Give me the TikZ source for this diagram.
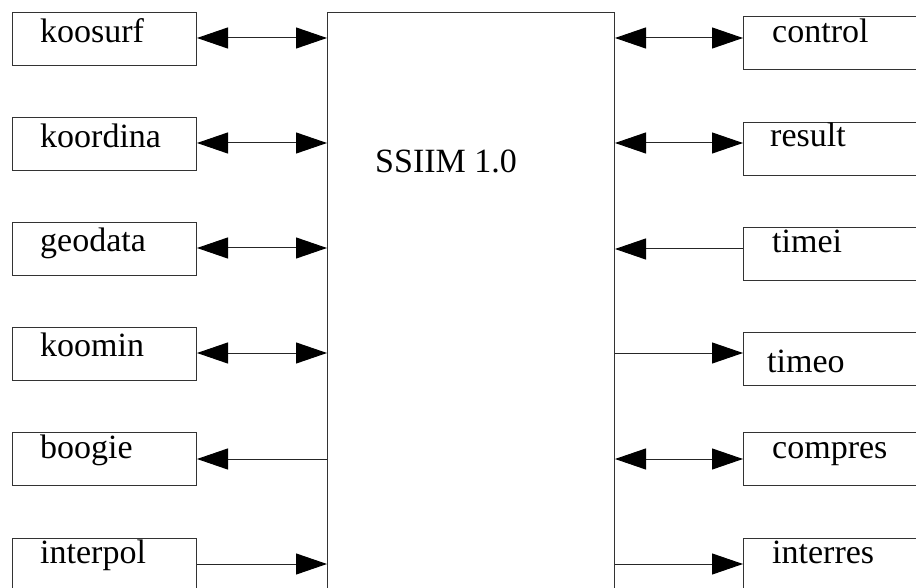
\documentclass[tikz,border=0pt]{standalone}
\usepackage{fontspec}
\setmainfont{Liberation Serif}
\usetikzlibrary{arrows.meta}
\begin{document}
\begin{tikzpicture}[x=1pt,y=-1pt,
  box/.style={draw=black!80, line width=1pt, rectangle, inner sep=0pt, anchor=north west,
    minimum width=184pt, minimum height=53pt},
  rbox/.style={box, minimum width=200pt},
  lbl/.style={anchor=base west, inner sep=0pt, font=\fontsize{34}{40}\selectfont},
  conn/.style={draw=black!85, line width=1pt},
  both/.style={conn, {Triangle[length=31pt,width=21pt,black]}-{Triangle[length=31pt,width=21pt,black]}},
  fwd/.style={conn, -{Triangle[length=31pt,width=21pt,black]}}]
\useasboundingbox (0,0) rectangle (916,588);
% central box
\node[draw=black!80, line width=1pt, rectangle, inner sep=0pt, anchor=north west,
  minimum width=287pt, minimum height=600pt] (main) at (327,12) {};
\node[lbl] (title) at (375,173) {SSIIM 1.0};
% left boxes
\node[box] (l1) at (12,12) {};
\node[box] (l2) at (12,117) {};
\node[box] (l3) at (12,222) {};
\node[box] (l4) at (12,327) {};
\node[box] (l5) at (12,432) {};
\node[box] (l6) at (12,538) {};
\node[lbl] (t1) at (40,43) {koosurf};
\node[lbl] (t2) at (40,148) {koordina};
\node[lbl] (t3) at (40,252) {geodata};
\node[lbl] (t4) at (40,356) {koomin};
\node[lbl] (t5) at (40,458) {boogie};
\node[lbl] (t6) at (40,563) {interpol};
% right boxes
\node[rbox] (r1) at (743,16) {};
\node[rbox] (r2) at (743,122) {};
\node[rbox] (r3) at (743,227) {};
\node[rbox] (r4) at (743,332) {};
\node[rbox] (r5) at (743,432) {};
\node[rbox] (r6) at (743,538) {};
\node[lbl] (s1) at (772,43) {control};
\node[lbl] (s2) at (770,147) {result};
\node[lbl] (s3) at (772,253) {timei};
\node[lbl] (s4) at (767,372) {timeo};
\node[lbl] (s5) at (772,458) {compres};
\node[lbl] (s6) at (772,563) {interres};
% arrow anchor points on left boxes
\coordinate (la1) at ([yshift=-26pt]l1.north east);
\coordinate (la2) at ([yshift=-26pt]l2.north east);
\coordinate (la3) at ([yshift=-26pt]l3.north east);
\coordinate (la4) at ([yshift=-26pt]l4.north east);
\coordinate (la5) at ([yshift=-27pt]l5.north east);
\coordinate (la6) at ([yshift=-26pt]l6.north east);
% arrow anchor points on right boxes
\coordinate (ra1) at ([yshift=-22pt]r1.north west);
\coordinate (ra2) at ([yshift=-21pt]r2.north west);
\coordinate (ra3) at ([yshift=-22pt]r3.north west);
\coordinate (ra4) at ([yshift=-21pt]r4.north west);
\coordinate (ra5) at ([yshift=-27pt]r5.north west);
\coordinate (ra6) at ([yshift=-26pt]r6.north west);
% left connectors
\draw[both] (la1) -- (main.west |- la1);
\draw[both] (la2) -- (main.west |- la2);
\draw[both] (la3) -- (main.west |- la3);
\draw[both] (la4) -- (main.west |- la4);
\draw[fwd] (main.west |- la5) -- (la5);
\draw[fwd] (la6) -- (main.west |- la6);
% right connectors
\draw[both] (main.east |- ra1) -- (ra1);
\draw[both] (main.east |- ra2) -- (ra2);
\draw[fwd] (ra3) -- (main.east |- ra3);
\draw[fwd] (main.east |- ra4) -- (ra4);
\draw[both] (main.east |- ra5) -- (ra5);
\draw[fwd] (main.east |- ra6) -- (ra6);
\end{tikzpicture}
\end{document}
